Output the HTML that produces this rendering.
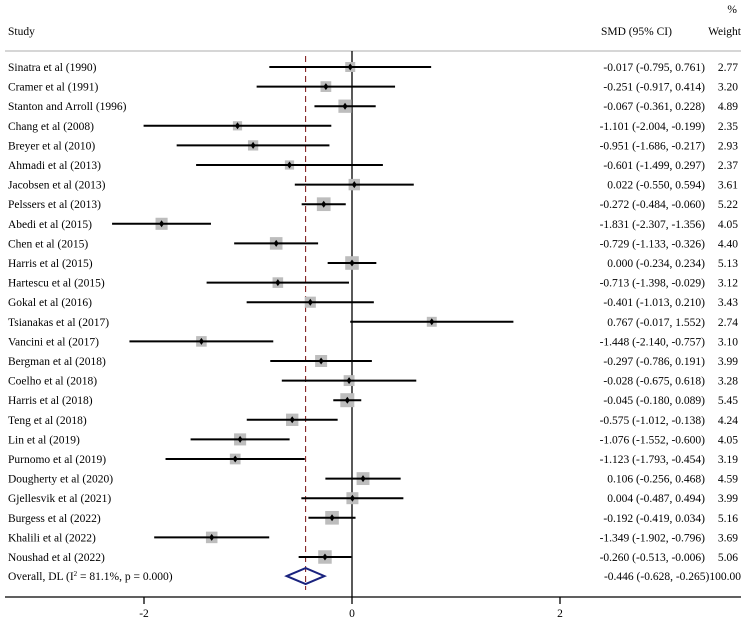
<!DOCTYPE html>
<html><head><meta charset="utf-8"><style>
body{margin:0;background:#fff}
svg{display:block;font-family:"Liberation Serif",serif;font-size:11.5px}
</style></head><body>
<svg id="plot" width="744" height="620"></svg>
<script>
const studies=["Sinatra et al (1990)","Cramer et al (1991)","Stanton and Arroll (1996)","Chang et al (2008)","Breyer et al (2010)","Ahmadi et al (2013)","Jacobsen et al (2013)","Pelssers et al (2013)","Abedi et al (2015)","Chen et al (2015)","Harris et al (2015)","Hartescu et al (2015)","Gokal et al (2016)","Tsianakas et al (2017)","Vancini et al (2017)","Bergman et al (2018)","Coelho et al (2018)","Harris et al (2018)","Teng et al (2018)","Lin et al (2019)","Purnomo et al (2019)","Dougherty et al (2020)","Gjellesvik et al (2021)","Burgess et al (2022)","Khalili et al (2022)","Noushad et al (2022)"];
const smd=[-0.017,-0.251,-0.067,-1.101,-0.951,-0.601,0.022,-0.272,-1.831,-0.729,0.000,-0.713,-0.401,0.767,-1.448,-0.297,-0.028,-0.045,-0.575,-1.076,-1.123,0.106,0.004,-0.192,-1.349,-0.260];
const lo=[-0.795,-0.917,-0.361,-2.004,-1.686,-1.499,-0.550,-0.484,-2.307,-1.133,-0.234,-1.398,-1.013,-0.017,-2.140,-0.786,-0.675,-0.180,-1.012,-1.552,-1.793,-0.256,-0.487,-0.419,-1.902,-0.513];
const hi=[0.761,0.414,0.228,-0.199,-0.217,0.297,0.594,-0.060,-1.356,-0.326,0.234,-0.029,0.210,1.552,-0.757,0.191,0.618,0.089,-0.138,-0.600,-0.454,0.468,0.494,0.034,-0.796,-0.006];
const weight=[2.77,3.20,4.89,2.35,2.93,2.37,3.61,5.22,4.05,4.40,5.13,3.12,3.43,2.74,3.10,3.99,3.28,5.45,4.24,4.05,3.19,4.59,3.99,5.16,3.69,5.06];
const overall=[-0.446,-0.628,-0.265];
const xTicks=[-2,0,2];
const svg=document.getElementById('plot');
const NS='http://www.w3.org/2000/svg';
const X=v=>352+v*104;
const Y=i=>67+i*19.6;
function mk(tag,attrs,txt){const e=document.createElementNS(NS,tag);for(const k in attrs)e.setAttribute(k,attrs[k]);if(txt!==undefined)e.textContent=txt;svg.appendChild(e);return e;}
const f=v=>v.toFixed(3);
let e;
e=mk('text',{x:737,y:13,'text-anchor':'end'},'%');
e=mk('text',{x:8,y:35},'Study');
e=mk('text',{x:601,y:35},'SMD (95% CI)');
e=mk('text',{x:741,y:35,'text-anchor':'end'},'Weight');
e=mk('line',{x1:5,x2:741,y1:51,y2:51,stroke:'#c8c8c8','stroke-width':1.5});
e=mk('line',{x1:X(0),x2:X(0),y1:51,y2:597,stroke:'#000','stroke-width':1.3});
e=mk('line',{x1:X(overall[0]),x2:X(overall[0]),y1:56,y2:590,stroke:'#7a1010','stroke-width':1,'stroke-dasharray':'6,4'});
studies.forEach((s,i)=>{
  const y=Y(i);
  e=mk('text',{x:8,y:y+4},s);
  const side=6*Math.sqrt(weight[i]);
  e=mk('rect',{x:X(smd[i])-side/2,y:y-side/2,width:side,height:side,fill:'#bdbdbd'});
  e=mk('line',{x1:X(lo[i]),x2:X(hi[i]),y1:y,y2:y,stroke:'#000','stroke-width':2});
  const cx=X(smd[i]);
  e=mk('polygon',{points:`${cx},${y-3.5} ${cx+2.5},${y} ${cx},${y+3.5} ${cx-2.5},${y}`,fill:'#000'});
  e=mk('text',{x:705,y:y+4,'text-anchor':'end'},`${f(smd[i])} (${f(lo[i])}, ${f(hi[i])})`);
  e=mk('text',{x:738,y:y+4,'text-anchor':'end'},weight[i].toFixed(2));
});
const yo=Y(26)-0.5;
e=mk('text',{x:8,y:yo+4},'');
e.innerHTML='Overall, DL (I<tspan dy="-4" font-size="7">2</tspan><tspan dy="4"> = 81.1%, p = 0.000)</tspan>';
e=mk('polygon',{points:`${X(overall[1])},${yo} ${X(overall[0])},${yo-8} ${X(overall[2])},${yo} ${X(overall[0])},${yo+8}`,fill:'none',stroke:'#1a237e','stroke-width':2});
e=mk('text',{x:741,y:yo+4,'text-anchor':'end'},`${f(overall[0])} (${f(overall[1])}, ${f(overall[2])})100.00`);
e=mk('line',{x1:5,x2:741,y1:597,y2:597,stroke:'#000','stroke-width':1.3});
xTicks.forEach(t=>{
  e=mk('line',{x1:X(t),x2:X(t),y1:597,y2:604,stroke:'#000','stroke-width':1.3});
  e=mk('text',{x:X(t),y:617,'text-anchor':'middle'},String(t));
});
</script>
</body></html>
